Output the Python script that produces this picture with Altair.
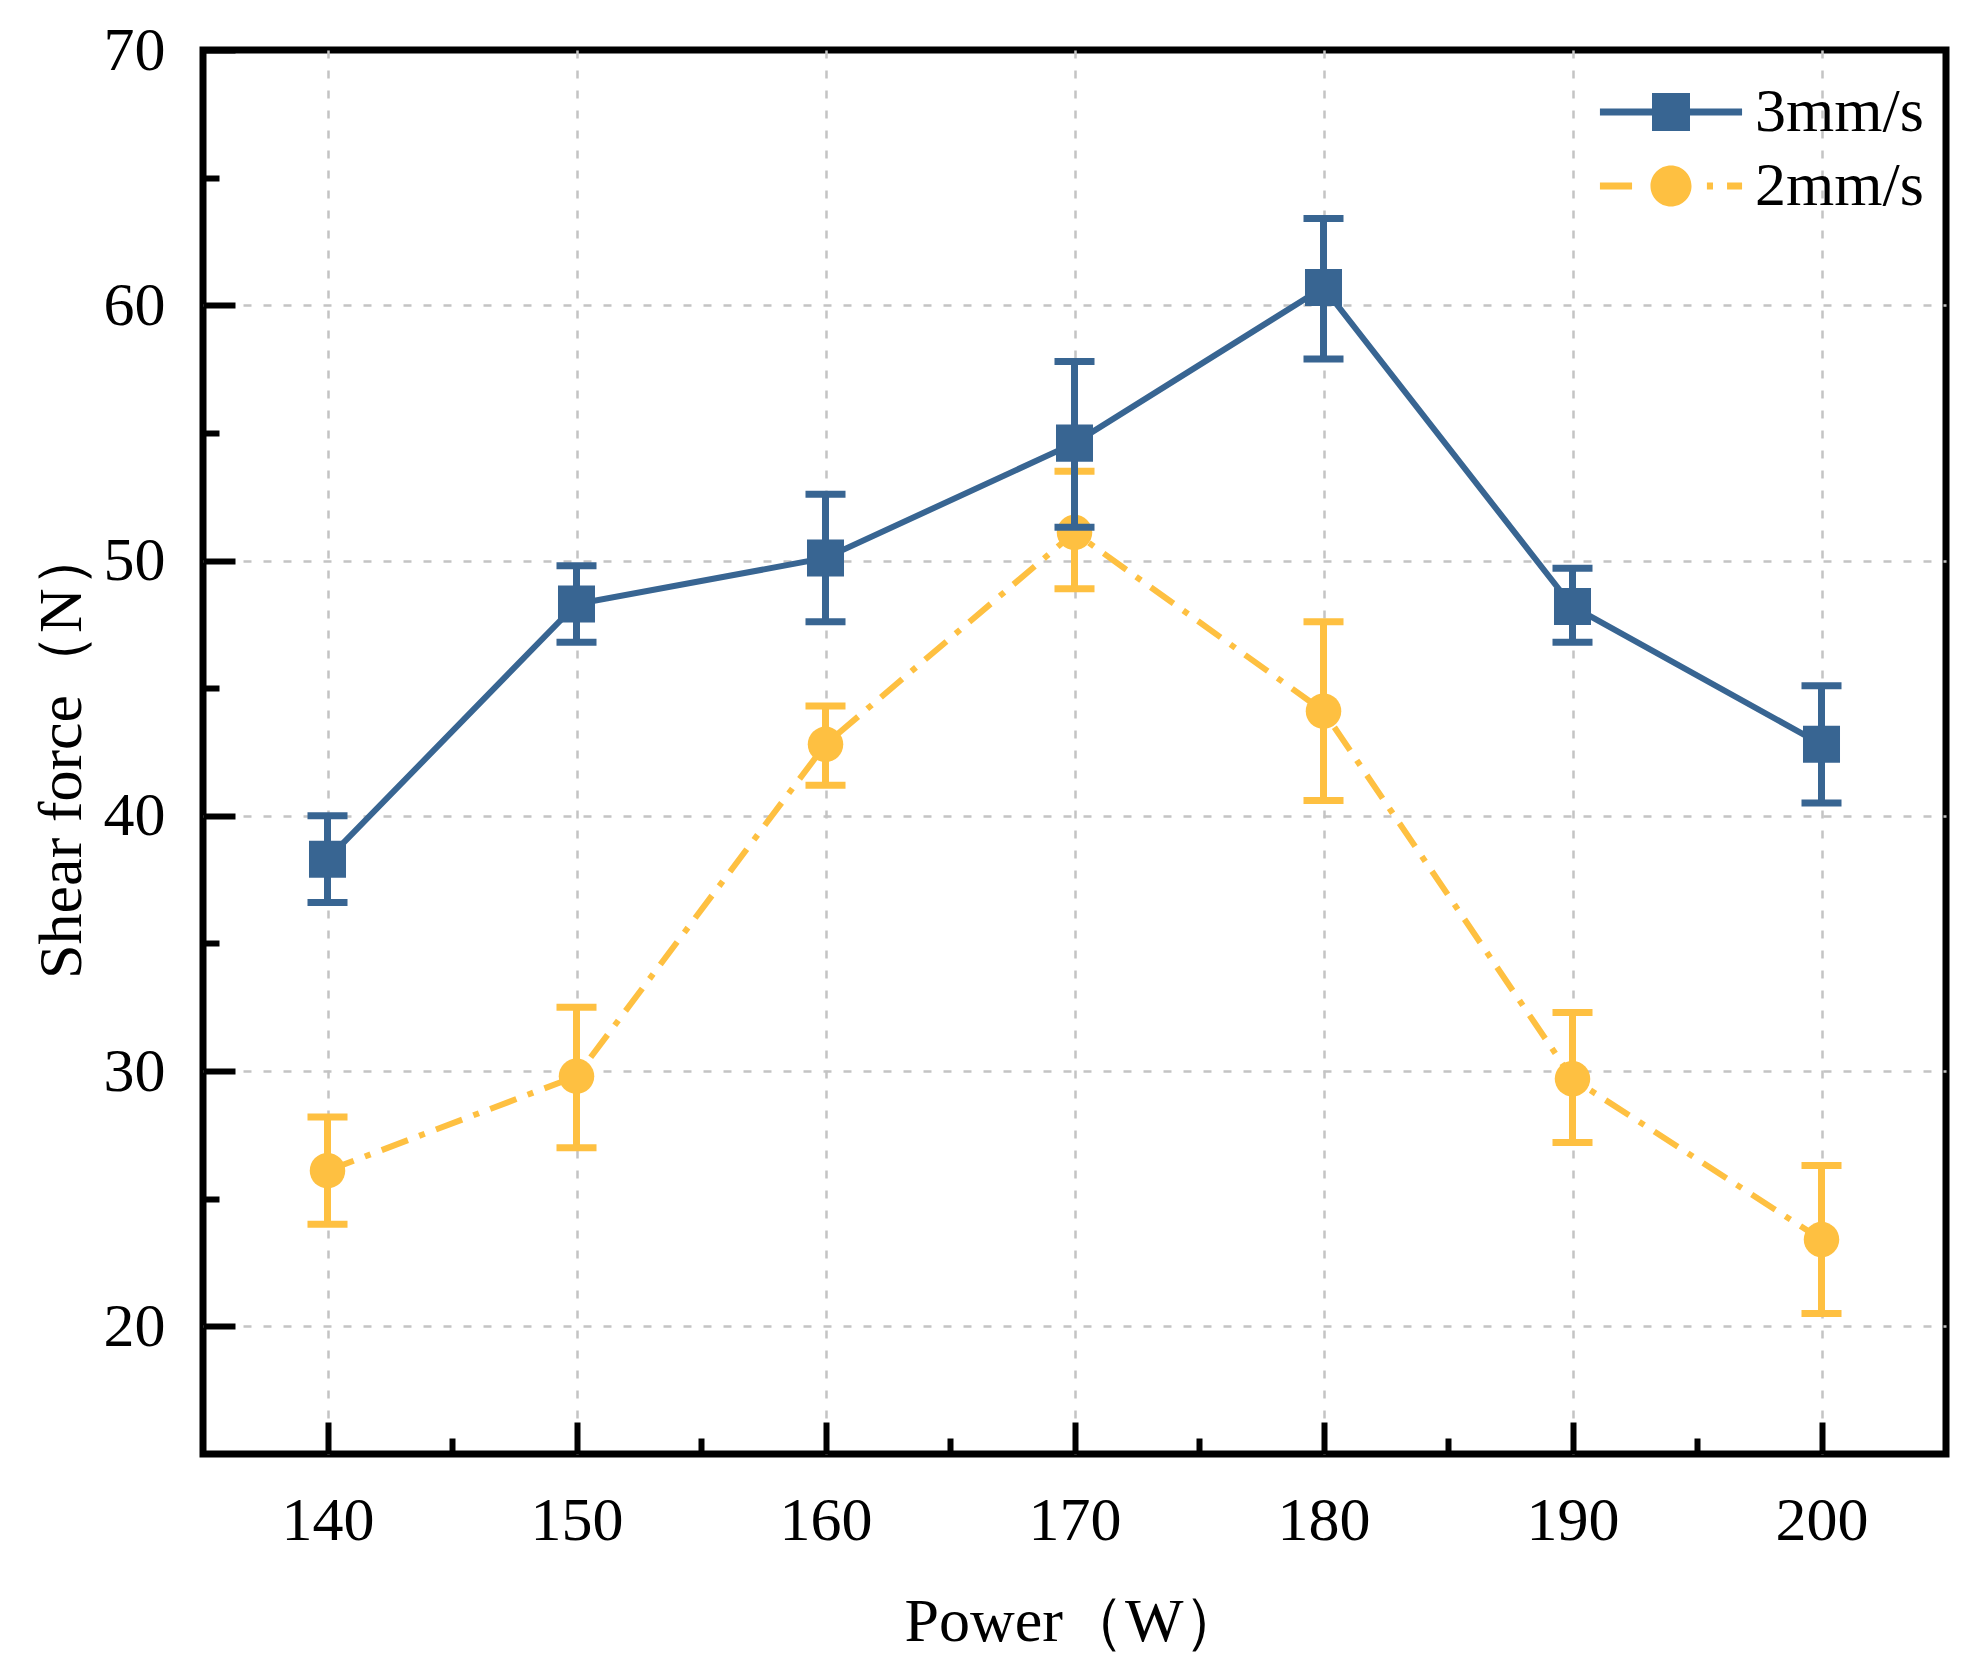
import altair as alt
import pandas as pd

# ---------------- data ----------------
power = [140, 150, 160, 170, 180, 190, 200]

f3 = [38.3, 48.3, 50.1, 54.6, 60.7, 48.2, 42.8]
f3_lo = [36.6, 46.8, 47.6, 51.3, 57.9, 46.8, 40.5]
f3_hi = [40.0, 49.8, 52.6, 57.8, 63.4, 49.7, 45.1]

f2 = [26.1, 29.8, 42.8, 51.1, 44.1, 29.7, 23.4]
f2_lo = [24.0, 27.0, 41.2, 48.9, 40.6, 27.2, 20.5]
f2_hi = [28.2, 32.5, 44.3, 53.5, 47.6, 32.3, 26.3]

series_names = ["3mm/s", "2mm/s"]

x_major = [140, 150, 160, 170, 180, 190, 200]
x_minor = [145, 155, 165, 175, 185, 195]
y_labels = [20, 30, 40, 50, 60, 70]
y_grid = [20, 30, 40, 50, 60]
y_minor = [25, 35, 45, 55, 65]

# ---------------- styles ----------------
BLUE = "#386592"
YELLOW = "#FEC041"
FONT = "Liberation Serif"
FS = 62

df3 = pd.DataFrame({"power": power, "force": f3, "lo": f3_lo, "hi": f3_hi, "series": series_names[0]})
df2 = pd.DataFrame({"power": power, "force": f2, "lo": f2_lo, "hi": f2_hi, "series": series_names[1]})
df_all = pd.concat([df3, df2], ignore_index=True)

X_SCALE = alt.Scale(domain=[135, 205], nice=False, zero=False)
Y_SCALE = alt.Scale(domain=[15, 70], nice=False, zero=False)


def xe(axis=None):
    return alt.X("power:Q", scale=X_SCALE, axis=axis)


def ye(field="force", axis=None):
    return alt.Y(f"{field}:Q", scale=Y_SCALE, axis=axis)


# ---------------- axis layers ----------------
label_layer = alt.Chart(df_all).mark_point(opacity=0).encode(
    x=xe(alt.Axis(orient="bottom", values=x_major, title="Power（W）", grid=False,
                  ticks=False, domain=False, labelPadding=36, titlePadding=40, format="d")),
    y=ye(axis=alt.Axis(orient="left", values=y_labels, title="Shear force（N）", grid=False,
                       ticks=False, domain=False, labelPadding=38, titlePadding=10, format="d")),
)

grid_layer = alt.Chart(df_all).mark_point(opacity=0).encode(
    x=xe(alt.Axis(orient="bottom", values=x_major, grid=True, labels=False, ticks=False,
                  domain=False, title=None)),
    y=ye(axis=alt.Axis(orient="left", values=y_grid, grid=True, labels=False, ticks=False,
                       domain=False, title=None)),
)

major_layer = alt.Chart(df_all).mark_point(opacity=0).encode(
    x=xe(alt.Axis(orient="bottom", values=x_major, offset=-32, tickSize=32, tickWidth=6,
                  tickColor="black", labels=False, domain=False, grid=False, title=None)),
    y=ye(axis=alt.Axis(orient="left", values=y_labels, offset=-32, tickSize=32, tickWidth=6,
                       tickColor="black", labels=False, domain=False, grid=False, title=None)),
)

minor_layer = alt.Chart(df_all).mark_point(opacity=0).encode(
    x=xe(alt.Axis(orient="bottom", values=x_minor, offset=-16, tickSize=16, tickWidth=6,
                  tickColor="black", labels=False, domain=False, grid=False, title=None)),
    y=ye(axis=alt.Axis(orient="left", values=y_minor, offset=-16, tickSize=16, tickWidth=6,
                       tickColor="black", labels=False, domain=False, grid=False, title=None)),
)


# ---------------- series layers ----------------
def series_layers(df, color, dash, shape, size):
    base = alt.Chart(df)
    line_kw = dict(color=color, strokeWidth=6)
    if dash:
        line_kw["strokeDash"] = dash
    line = base.mark_line(**line_kw).encode(x=xe(), y=ye())
    err = base.mark_rule(color=color, strokeWidth=7).encode(x=xe(), y=ye("lo"), y2="hi:Q")
    cap_hi = base.mark_tick(color=color, orient="horizontal", size=40, thickness=7, opacity=1).encode(
        x=xe(), y=ye("hi"))
    cap_lo = base.mark_tick(color=color, orient="horizontal", size=40, thickness=7, opacity=1).encode(
        x=xe(), y=ye("lo"))
    pts = base.mark_point(color=color, filled=True, opacity=1, shape=shape, size=size).encode(
        x=xe(), y=ye())
    return [line, err, cap_hi, cap_lo, pts]


yellow_layers = series_layers(df2, YELLOW, [28, 12, 6, 12], "circle", 1260)
blue_layers = series_layers(df3, BLUE, None, "square", 1370)

# ---------------- legend layer (symbols drawn as paths: line + marker) ----------------
path3 = "M-3.74,-0.18H3.74V0.18H-3.74Z M-1,-1H1V1H-1Z"
path2 = ("M-3.74,-0.18H-2.05V0.18H-3.74Z M1.89,-0.18H2.21V0.18H1.89Z "
         "M2.95,-0.18H3.74V0.18H2.95Z "
         "M-1.08,0A1.08,1.08 0 1,1 1.08,0A1.08,1.08 0 1,1 -1.08,0Z")

leg = alt.Legend(title=None, orient="none", legendX=1437, legendY=31, labelFont=FONT,
                 labelFontSize=FS, labelColor="black", symbolSize=1444, labelOffset=53,
                 rowPadding=12, padding=0, symbolStrokeWidth=0, symbolOpacity=1,
                 labelLimit=500, strokeColor="transparent")

legend_layer = alt.Chart(df_all).transform_filter("datum.power < 0").mark_point(
    filled=True, size=1444, opacity=1).encode(
    x=xe(), y=ye(),
    color=alt.Color("series:N", scale=alt.Scale(domain=series_names, range=[BLUE, YELLOW]), legend=leg),
    shape=alt.Shape("series:N", scale=alt.Scale(domain=series_names, range=[path3, path2]), legend=leg),
)

chart = alt.layer(
    grid_layer, label_layer, *yellow_layers, *blue_layers, major_layer, minor_layer, legend_layer
).resolve_axis(x="independent", y="independent").properties(
    width=1743, height=1404,
    padding={"left": 22, "top": 11, "right": 10, "bottom": 10},
    background="white",
).configure_view(
    stroke="black", strokeWidth=7
).configure_axis(
    labelFont=FONT, titleFont=FONT, labelFontSize=FS, titleFontSize=FS,
    labelColor="black", titleColor="black", titleFontWeight="normal",
    gridColor="#c4c4c4", gridDash=[8, 12], gridWidth=2.5,
)

chart.save("out.html", embed_options={"renderer": "svg", "actions": False})
